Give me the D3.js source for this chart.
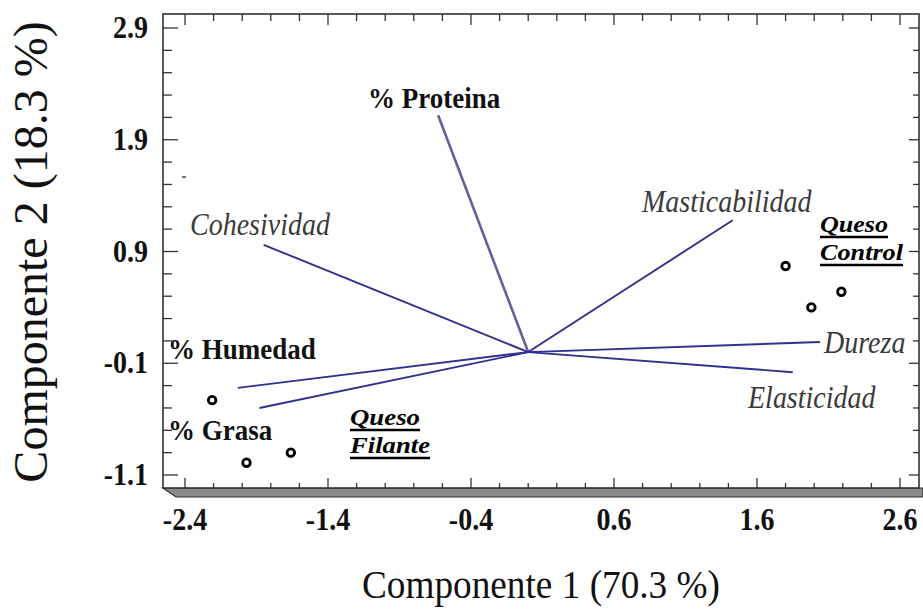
<!DOCTYPE html>
<html>
<head>
<meta charset="utf-8">
<script src="https://cdn.jsdelivr.net/npm/d3@7"></script>
<style>
  html, body { margin: 0; padding: 0; background: #fff; }
  svg { display: block; font-family: "Liberation Serif", "Times New Roman", serif; }
</style>
</head>
<body>
<svg id="chart" width="923" height="609"></svg>
<script>
/* ── Data ───────────────────────────────────────────── */
const vectorNames = ['% Proteina', 'Cohesividad', 'Masticabilidad', 'Dureza', 'Elasticidad', '% Humedad', '% Grasa'];
const vectorC1    = [-0.63, -1.85, 1.43, 2.04, 1.85, -2.03, -1.88];
const vectorC2    = [ 2.12,  0.96, 1.18, 0.09, -0.18, -0.32, -0.50];

const sampleGroup = ['Queso Filante', 'Queso Filante', 'Queso Filante', 'Queso Control', 'Queso Control', 'Queso Control'];
const sampleC1    = [-2.21, -1.97, -1.66, 1.80, 1.98, 2.19];
const sampleC2    = [-0.43, -0.99, -0.90, 0.77, 0.40, 0.54];

const xTicks = [-2.4, -1.4, -0.4, 0.6, 1.6, 2.6];
const yTicks = [2.9, 1.9, 0.9, -0.1, -1.1];

const xTitle = 'Componente 1 (70.3 %)';
const yTitle = 'Componente 2 (18.3 %)';

/* ── Layout ─────────────────────────────────────────── */
const frame = { left: 163, right: 919, top: 14, bottom: 488 };

const x = d3.scaleLinear().domain([-2.4, 2.6]).range([185, 900]);
const y = d3.scaleLinear().domain([-1.1, 2.9]).range([475, 28]);

// label placement for each vector (pixels)
const vectorLabel = {
  '% Proteina':     { x: 368, y: 108, bold: true },
  'Cohesividad':    { x: 190, y: 235 },
  'Masticabilidad': { x: 642, y: 212 },
  'Dureza':         { x: 824, y: 353 },
  'Elasticidad':    { x: 748, y: 408 },
  '% Humedad':      { x: 168, y: 359, bold: true },
  '% Grasa':        { x: 168, y: 440, bold: true }
};
// group labels: two lines each, with the printed width of each word
const groupLabel = {
  'Queso Filante': { x: 350, y: 425, widths: [70, 80] },
  'Queso Control': { x: 820, y: 232, widths: [68, 83] }
};
const STRETCH = 1.12;   // glyphs in the source look vertically stretched

const svg = d3.select('#chart');

// text drawn a bit taller than wide, like the original export
function tallText(g, tx, ty, str, size) {
  return g.append('text')
    .attr('transform', `translate(${tx},${ty}) scale(1,${STRETCH})`)
    .attr('font-size', size)
    .text(str);
}

/* ── 3D floor under the plot ────────────────────────── */
svg.append('path')
  .attr('d', `M${frame.left},${frame.bottom} L923,${frame.bottom} L923,497 L176,497 Z`)
  .attr('fill', '#8a8a8a')
  .attr('stroke', '#333')
  .attr('stroke-width', 1.2);

/* ── Frame ──────────────────────────────────────────── */
svg.append('rect')
  .attr('x', frame.left).attr('y', frame.top)
  .attr('width', frame.right - frame.left)
  .attr('height', frame.bottom - frame.top)
  .attr('fill', '#fff')
  .attr('stroke', '#333')
  .attr('stroke-width', 1.6);

/* ── Ticks (major + minor every 0.2) ────────────────── */
function minorValues(scale, lo, hi) {
  const a = scale.invert(lo), b = scale.invert(hi);
  const min = Math.min(a, b), max = Math.max(a, b);
  const base = scale.domain()[0];
  const out = [];
  for (let k = Math.ceil((min - base) / 0.2 - 1e-6); base + k * 0.2 <= max + 1e-6; k++) {
    out.push({ v: base + k * 0.2, major: k % 5 === 0 });
  }
  return out;
}

const tk = svg.append('g').attr('stroke', '#333').attr('stroke-width', 1.3);

minorValues(x, frame.left + 2, frame.right - 2).forEach(t => {
  const px = x(t.v);
  tk.append('line').attr('x1', px).attr('x2', px)
    .attr('y1', frame.bottom).attr('y2', frame.bottom - (t.major ? 10 : 5));
  tk.append('line').attr('x1', px).attr('x2', px)
    .attr('y1', frame.top).attr('y2', frame.top + (t.major ? 11 : 7));
});
minorValues(y, frame.bottom - 2, frame.top + 2).forEach(t => {
  const py = y(t.v);
  tk.append('line').attr('y1', py).attr('y2', py)
    .attr('x1', frame.left).attr('x2', frame.left + (t.major ? 15 : 9));
  tk.append('line').attr('y1', py).attr('y2', py)
    .attr('x1', frame.right).attr('x2', frame.right - (t.major ? 10 : 6));
});
// small stray mark inside the frame
tk.append('line').attr('x1', 182).attr('x2', 186).attr('y1', 177).attr('y2', 177);

/* ── Tick labels ────────────────────────────────────── */
const xt = svg.append('g').attr('text-anchor', 'middle').attr('font-weight', 'bold').attr('fill', '#111');
xTicks.forEach(d => tallText(xt, x(d), 530, d.toFixed(1), 28));

const yt = svg.append('g').attr('text-anchor', 'end').attr('font-weight', 'bold').attr('fill', '#111');
yTicks.forEach(d => tallText(yt, 148, y(d) + 10, d.toFixed(1), 28));

/* ── Axis titles ────────────────────────────────────── */
svg.append('text')
  .attr('x', 362).attr('y', 598)
  .attr('font-size', 39)
  .attr('textLength', 358)
  .attr('lengthAdjust', 'spacingAndGlyphs')
  .attr('fill', '#111')
  .text(xTitle);

svg.append('text')
  .attr('transform', 'translate(47,252) rotate(-90)')
  .attr('text-anchor', 'middle')
  .attr('font-size', 48)
  .attr('fill', '#111')
  .text(yTitle);

/* ── Loading vectors ────────────────────────────────── */
const vec = svg.append('g');
vectorNames.forEach((name, i) => {
  const prot = name === '% Proteina';
  vec.append('line')
    .attr('x1', x(0)).attr('y1', y(0))
    .attr('x2', x(vectorC1[i])).attr('y2', y(vectorC2[i]))
    .attr('stroke', prot ? '#62629a' : '#30308e')
    .attr('stroke-width', prot ? 2.6 : 1.9);

  const lp = vectorLabel[name];
  tallText(vec, lp.x, lp.y, name, lp.bold ? 27 : 28)
    .attr('font-weight', lp.bold ? 'bold' : 'normal')
    .attr('font-style', lp.bold ? 'normal' : 'italic')
    .attr('fill', lp.bold ? '#111' : '#3a3a3a');
});

/* ── Sample scores ──────────────────────────────────── */
svg.append('g').selectAll('circle')
  .data(sampleC1.map((c1, i) => ({ c1, c2: sampleC2[i], g: sampleGroup[i] })))
  .join('circle')
  .attr('cx', d => x(d.c1))
  .attr('cy', d => y(d.c2))
  .attr('r', 3.8)
  .attr('fill', '#fff')
  .attr('stroke', '#000')
  .attr('stroke-width', 2.8);

/* ── Group labels (bold italic, underlined) ─────────── */
Object.entries(groupLabel).forEach(([name, p]) => {
  name.split(' ').forEach((word, j) => {
    const ty = p.y + j * 28;
    svg.append('text')
      .attr('x', p.x).attr('y', ty)
      .attr('font-size', 24)
      .attr('font-weight', 'bold')
      .attr('font-style', 'italic')
      .attr('textLength', p.widths[j])
      .attr('lengthAdjust', 'spacingAndGlyphs')
      .attr('fill', '#000')
      .text(word);
    svg.append('line')
      .attr('x1', p.x).attr('x2', p.x + p.widths[j])
      .attr('y1', ty + 5).attr('y2', ty + 5)
      .attr('stroke', '#000')
      .attr('stroke-width', 2.4);
  });
});
</script>
</body>
</html>
